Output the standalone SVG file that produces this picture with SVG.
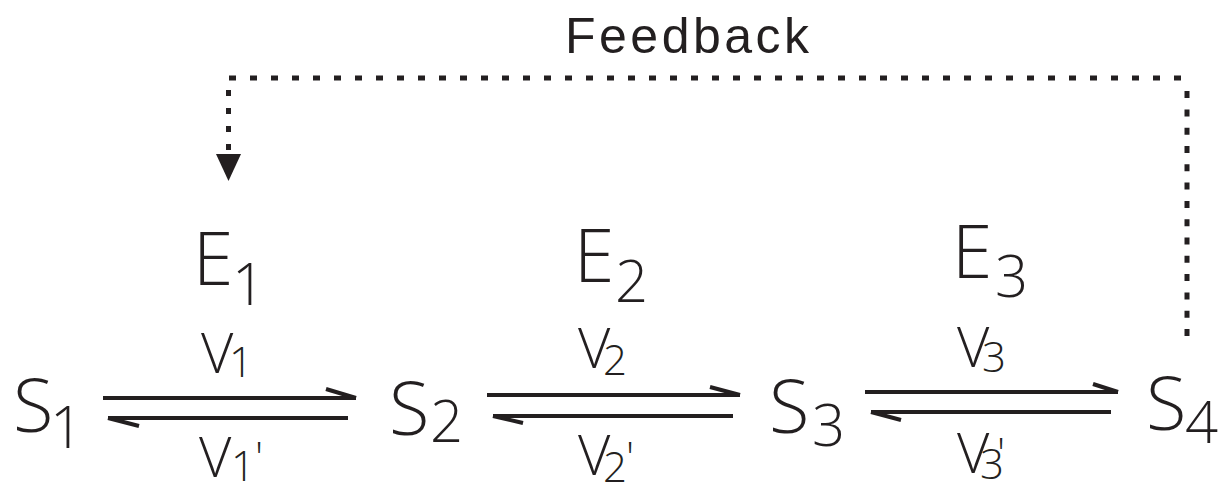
<svg xmlns="http://www.w3.org/2000/svg" width="1221" height="483" viewBox="0 0 1221 483">
<defs>
<style>
.t{font-family:"Open Sans","Liberation Sans",sans-serif;font-weight:300;fill:#231f20}
.s{font-size:74px}
.e{font-size:73px}
.sub{font-size:58px}
.v{font-size:56px}
.vs{font-size:42px}
.fb{font-family:"Liberation Sans",Arial,sans-serif;font-size:50px;letter-spacing:3.5px;fill:#231f20}
.ln{stroke:#231f20;stroke-width:4;fill:none}
.dot{stroke:#231f20;stroke-width:5;fill:none}
</style>
</defs>
<rect width="1221" height="483" fill="#fff"/>
<g id="feedback-label"><text class="fb" x="565" y="53">Feedback</text></g>
<g id="connectors">
<path class="dot" d="M229,78 H1189" stroke-dasharray="7 14"/>
<path class="dot" d="M1187,336 V88" stroke-dasharray="7 11.3"/>
<path class="dot" d="M228.5,90 V150" stroke-dasharray="6 12"/>
<polygon points="216,154 241,154 228.5,181" fill="#231f20"/>
<line class="ln" x1="103" y1="398" x2="356" y2="398"/>
<line class="ln" x1="356" y1="398" x2="326" y2="389"/>
<line class="ln" x1="108" y1="418" x2="348" y2="418"/>
<line class="ln" x1="108" y1="418" x2="139" y2="426"/>
<line class="ln" x1="487" y1="395" x2="740" y2="395"/>
<line class="ln" x1="740" y1="395" x2="710" y2="387"/>
<line class="ln" x1="493" y1="416" x2="733" y2="416"/>
<line class="ln" x1="493" y1="416" x2="523" y2="423"/>
<line class="ln" x1="865" y1="392" x2="1118" y2="392"/>
<line class="ln" x1="1118" y1="392" x2="1093" y2="384"/>
<line class="ln" x1="871" y1="412" x2="1111" y2="412"/>
<line class="ln" x1="871" y1="412" x2="901" y2="420"/>
</g>
<g id="S1"><text class="t s" x="13" y="432">S</text><text class="t sub" x="50" y="448">1</text></g>
<g id="S2"><text class="t s" x="389" y="435">S</text><text class="t sub" x="430" y="442">2</text></g>
<g id="S3"><text class="t s" x="769" y="433">S</text><text class="t sub" x="812" y="446">3</text></g>
<g id="S4"><text class="t s" x="1146" y="430">S</text><text class="t sub" x="1185" y="443">4</text></g>
<g id="E1"><text class="t e" x="193" y="285">E</text><text class="t sub" x="232" y="305">1</text></g>
<g id="E2"><text class="t e" x="574" y="282">E</text><text class="t sub" x="615" y="302">2</text></g>
<g id="E3"><text class="t e" x="952" y="278">E</text><text class="t sub" x="995" y="297">3</text></g>
<g id="v1"><text class="t v" x="201" y="373">V</text><text class="t vs" x="229" y="377">1</text></g>
<g id="v1p"><text class="t v" x="199" y="477">V</text><text class="t vs" x="231" y="481">1</text><text class="t vs" x="255" y="472">'</text></g>
<g id="v2"><text class="t v" x="578" y="368">V</text><text class="t vs" x="603" y="375">2</text></g>
<g id="v2p"><text class="t v" x="578" y="475">V</text><text class="t vs" x="603" y="482">2</text><text class="t vs" x="626" y="472">'</text></g>
<g id="v3"><text class="t v" x="957" y="367">V</text><text class="t vs" x="982" y="372">3</text></g>
<g id="v3p"><text class="t v" x="957" y="473">V</text><text class="t vs" x="980" y="479">3</text><text class="t vs" x="997" y="468">'</text></g>
</svg>
